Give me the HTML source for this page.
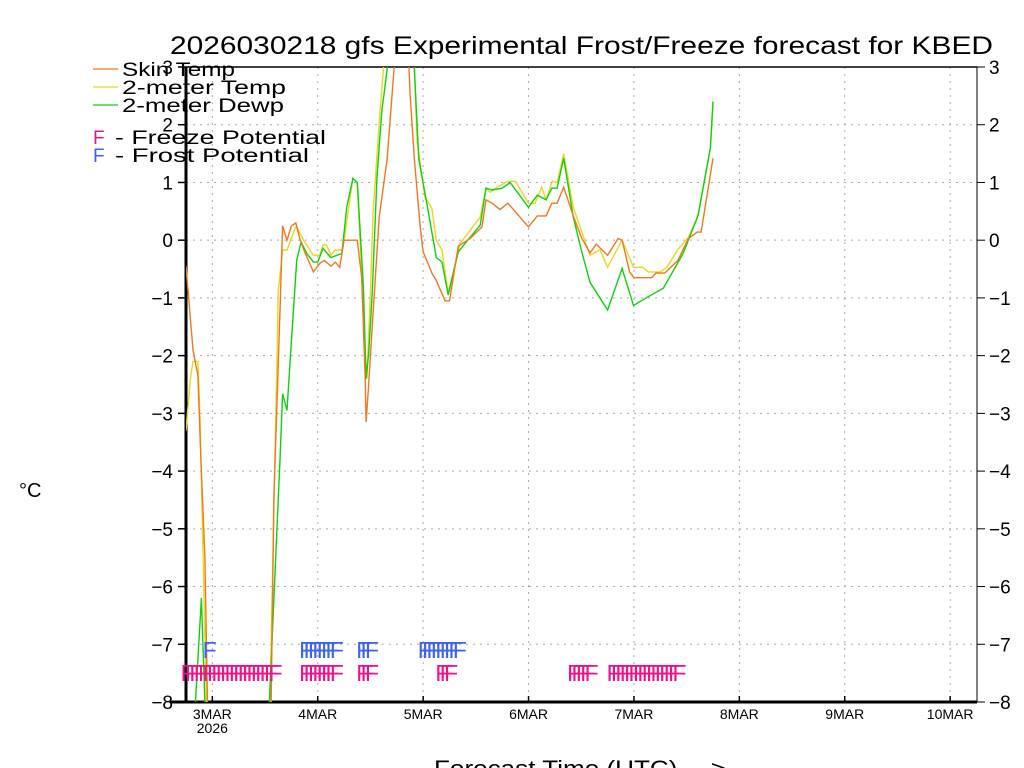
<!DOCTYPE html>
<html><head><meta charset="utf-8"><style>
html,body{margin:0;padding:0;background:#fff;}
svg{display:block;font-family:"Liberation Sans",sans-serif;}
</style></head><body>
<svg id="chart" width="1024" height="768" viewBox="0 0 1024 768" xmlns="http://www.w3.org/2000/svg">
<defs><clipPath id="plotclip"><rect x="186" y="67" width="791" height="635"/></clipPath></defs>
<text x="170" y="54" font-size="25" textLength="823" lengthAdjust="spacingAndGlyphs">2026030218 gfs Experimental Frost/Freeze forecast for KBED</text>
<g id="grid"></g>
<g id="axes"></g>
<g id="series" clip-path="url(#plotclip)"></g>
<g id="markers"></g>
<g id="legend">
  <line x1="93" y1="69" x2="118" y2="69" stroke="#f07820" stroke-width="1.3"/>
  <text x="122" y="76" font-size="19" textLength="113" lengthAdjust="spacingAndGlyphs">Skin Temp</text>
  <line x1="93" y1="87" x2="118" y2="87" stroke="#e8d820" stroke-width="1.3"/>
  <text x="122" y="94" font-size="19" textLength="164" lengthAdjust="spacingAndGlyphs">2-meter Temp</text>
  <line x1="93" y1="105" x2="118" y2="105" stroke="#10d010" stroke-width="1.3"/>
  <text x="122" y="112" font-size="19" textLength="162" lengthAdjust="spacingAndGlyphs">2-meter Dewp</text>
  <text x="93" y="144" font-size="19" fill="#f0108c">F</text>
  <text x="115" y="144" font-size="19" textLength="211" lengthAdjust="spacingAndGlyphs">- Freeze Potential</text>
  <text x="93" y="162" font-size="19" fill="#3c64f0">F</text>
  <text x="115" y="162" font-size="19" textLength="194" lengthAdjust="spacingAndGlyphs">- Frost Potential</text>
</g>
<text x="19" y="497" font-size="20">°C</text>
<text x="434" y="776" font-size="22" textLength="292" lengthAdjust="spacingAndGlyphs">Forecast Time (UTC) ---&gt;</text>
<script>
const skinHours=[0,1.6,2.7,3.4,4.3,5,19.3,20,21.5,22,23,24,25,26,27,29,30.5,31.5,33,34,35,36,39,40,40.8,41,41.5,42.4,44,45.8,46.5,47.4,48,50.5,51,52,53.3,54,56,57,59,60,62,64.7,67.4,68.3,69.7,71.5,73.3,78,80,82,83.3,84.5,86,88,90,92,93.4,96,98.4,99.3,101,102,106,107,109,112,114.4,116.4,117.3,118.2,120];
const skinVals=[-0.45,-1.9,-2.35,-3.8,-5.5,-8.5,-8.5,-4.5,-1,0.25,0,0.25,0.3,0,-0.2,-0.55,-0.4,-0.35,-0.45,-0.38,-0.47,0,0,-0.65,-2.4,-3.15,-2.6,-1.5,0.4,1.4,2.1,3,3.5,3.5,2.55,1.4,0.25,-0.2,-0.57,-0.7,-1.05,-1.05,-0.1,0.03,0.23,0.7,0.64,0.53,0.64,0.23,0.42,0.42,0.64,0.64,0.92,0.46,0.05,-0.22,-0.07,-0.26,0.03,0,-0.55,-0.65,-0.65,-0.57,-0.57,-0.35,0.03,0.14,0.14,0.57,1.42];
const tempHours=[0,1,1.6,2.7,3.2,3.9,4.8,19,20.7,21,22,23,24.8,25.2,27,29,30.5,31.2,32,33,34,35.5,36,38,39,40.8,41.2,42,42.6,44.2,45,45.5,51.5,52,52.6,54.4,56,57,58.3,59.7,62.4,64.7,67,68.3,69.2,70.8,73.3,75,78,79.5,81,82,83.4,84.5,86,88.2,90,92,94.3,96,99.3,101.9,104,105.3,108,109.5,112,114.4,116.6,119.4,120];
const tempVals=[-3.3,-2.4,-2.1,-2.1,-3.1,-5.5,-8.5,-8.5,-2.1,-0.9,-0.17,-0.17,0.2,0.23,-0.03,-0.26,-0.26,-0.08,-0.08,-0.26,-0.17,-0.17,0,1.07,1.0,-1.96,-2.4,-0.9,0.5,2.25,3,3.5,3.5,3,1.73,0.75,0.55,0,-0.17,-0.92,-0.06,0.17,0.4,0.9,0.83,0.92,1.02,1.02,0.64,0.64,0.92,0.7,1.02,1.0,1.5,0.57,0.17,-0.26,-0.17,-0.47,0,-0.47,-0.47,-0.55,-0.55,-0.47,-0.16,0.05,0.43,1.6,2.4];
const dewHours=[0,2,3.5,4.5,18.7,21.4,22,23,23.7,25.2,26.2,27.5,29,30,31.2,33,35.5,36.6,38,39,40.4,41,41.6,42.4,43.5,44.6,45.8,46.2,51.5,52,53,55,57,58.3,59.7,62,64.7,67,68.3,69.7,72,73.8,78,80,82,83.3,84.5,86,88.2,90,92,96,99.3,101.9,105,108.7,113.2,116.6,119.4,120];
const dewVals=[-9,-8.2,-6.2,-8.5,-8.5,-3.8,-2.66,-2.95,-2.1,-0.35,-0.03,-0.23,-0.38,-0.38,-0.14,-0.3,-0.23,0.57,1.07,1.0,-0.8,-2.4,-1.96,-0.92,1.1,2.25,2.95,3.5,3.5,2.95,1.4,0.57,-0.3,-0.38,-0.95,-0.2,0.05,0.26,0.9,0.87,0.9,1.0,0.57,0.78,0.7,0.9,0.9,1.42,0.4,-0.17,-0.73,-1.21,-0.49,-1.13,-0.99,-0.83,-0.23,0.43,1.6,2.4];
const frostHours=[4,26,27,28,29,30,31,32,33,39,40,41,53,54,55,56,57,58,59,60,61];
const freezeHours=[-1,0,1,2,3,4,5,6,7,8,9,10,11,12,13,14,15,16,17,18,19,26,27,28,29,30,31,32,33,39,40,41,57,58,59,87,88,89,90,91,96,97,98,99,100,101,102,103,104,105,106,107,108,109,110,111];
const yTicks=[-8,-7,-6,-5,-4,-3,-2,-1,0,1,2,3];
const dayLabels=["3MAR","4MAR","5MAR","6MAR","7MAR","8MAR","9MAR","10MAR"];
const dayHours=[6,30,54,78,102,126,150,174];

const NS="http://www.w3.org/2000/svg";
const X0=186,X1=977,Y0=702,Y1=67,PXH=105.4/24;
function xs(h){return X0+h*PXH;}
function ys(v){return Y0-(v+8)*(Y0-Y1)/11;}
function mk(tag,attrs,parent){const e=document.createElementNS(NS,tag);for(const k in attrs)e.setAttribute(k,attrs[k]);parent.appendChild(e);return e;}
const grid=document.getElementById('grid'),axes=document.getElementById('axes'),series=document.getElementById('series'),markers=document.getElementById('markers');

yTicks.forEach(v=>{
  const y=ys(v);
  if(v>-8&&v<3){const g=mk('line',{x1:X0,x2:X1,y1:y,y2:y,stroke:'#aaa','stroke-dasharray':'2,5'},grid);
  
  }
  mk('line',{x1:X0-8,x2:X0,y1:y,y2:y,stroke:'#000','stroke-width':1.5},axes);
  mk('line',{x1:X1,x2:X1+8,y1:y,y2:y,stroke:'#000','stroke-width':1},axes);
  const lab=mk('text',{x:X0-13,y:y+7,'font-size':19,'text-anchor':'end'},axes);
  lab.textContent=(v<0?'\u2212':'')+Math.abs(v);
  
  
  const lab2=mk('text',{x:X1+12,y:y+7,'font-size':19},axes);
  lab2.textContent=(v<0?'\u2212':'')+Math.abs(v);
  
  
});
dayHours.forEach((h,i)=>{
  const x=xs(h);
  const g=mk('line',{x1:x,x2:x,y1:Y1,y2:Y0,stroke:'#aaa','stroke-dasharray':'2,5'},grid);
  
  
  mk('line',{x1:x,x2:x,y1:Y0,y2:Y0-6,stroke:'#000','stroke-width':1.5},axes);
  const t=mk('text',{x:x,y:719,'font-size':14,'text-anchor':'middle'},axes);
  t.textContent=dayLabels[i];
  
  
});
const yr=mk('text',{x:xs(6),y:733,'font-size':14,'text-anchor':'middle'},axes);
yr.textContent='2026';


mk('line',{x1:X0,x2:X1,y1:Y1,y2:Y1,stroke:'#000','stroke-width':1.5},axes);
mk('line',{x1:X1,x2:X1,y1:Y1,y2:Y0,stroke:'#000','stroke-width':1},axes);
mk('line',{x1:X0,x2:X0,y1:Y1,y2:Y0+1,stroke:'#000','stroke-width':3},axes);
mk('line',{x1:170,x2:X1,y1:Y0,y2:Y0,stroke:'#000','stroke-width':3},axes);

function drawLine(hours,vals,color,name){
  const pts=hours.map((h,i)=>xs(h).toFixed(1)+','+ys(vals[i]).toFixed(1)).join(' ');
  const p=mk('polyline',{points:pts,fill:'none',stroke:color,'stroke-width':1.4},series);
  
  
}
drawLine(tempHours,tempVals,'#e8d820','line-2m-temp');
drawLine(dewHours,dewVals,'#10d010','line-2m-dewp');
drawLine(skinHours,skinVals,'#f07820','line-skin-temp');

frostHours.forEach(h=>{
  const t=mk('text',{x:xs(h)-1,y:658,'font-size':23,fill:'#3c64f0'},markers);
  t.textContent='F';
  
  
});
freezeHours.forEach(h=>{
  const t=mk('text',{x:xs(h)-1,y:681,'font-size':23,fill:'#f0108c'},markers);
  t.textContent='F';
  
  
});
</script>
</svg>
</body></html>
